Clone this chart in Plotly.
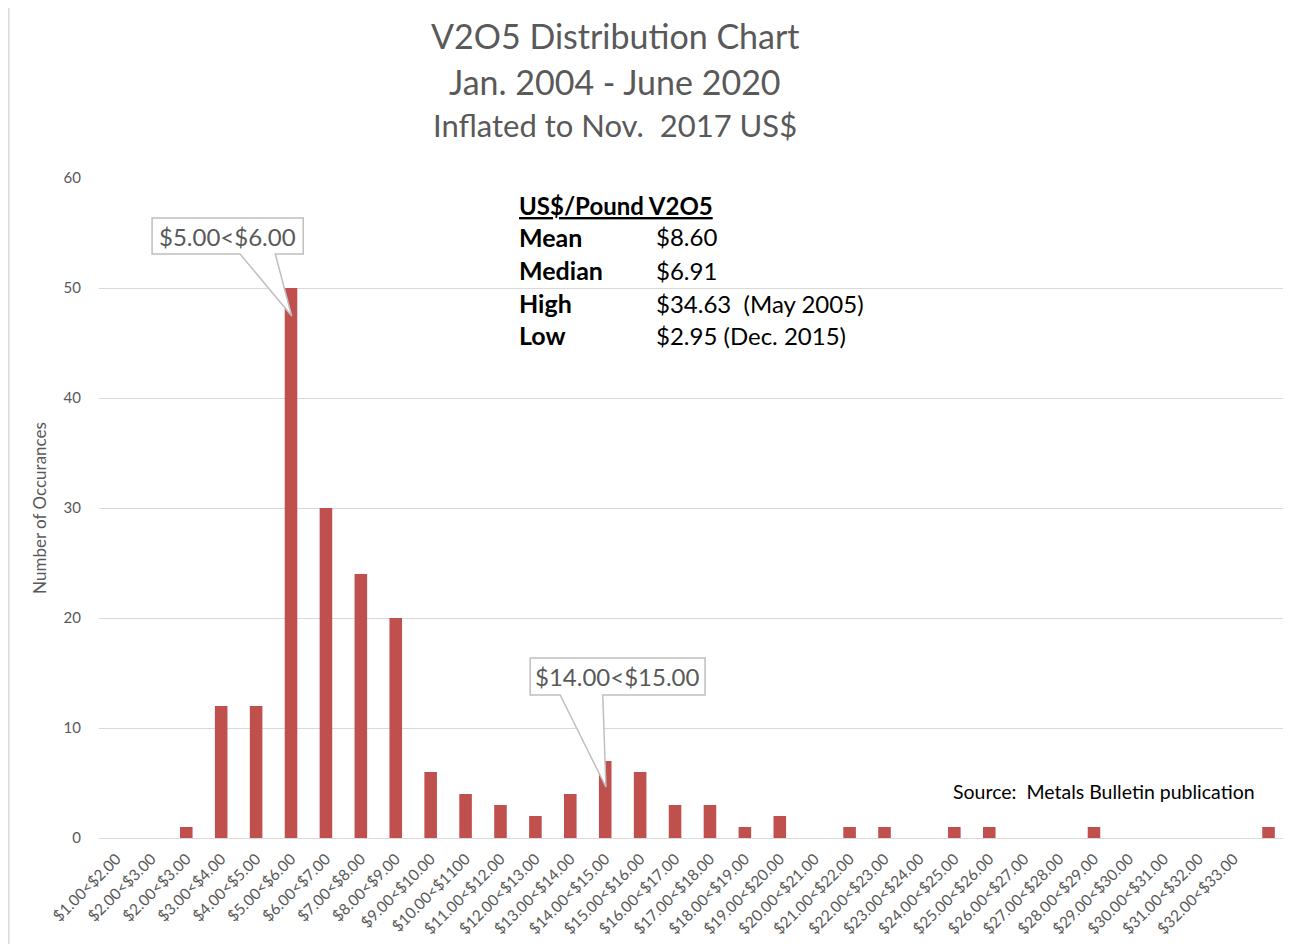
import plotly.graph_objects as go

categories = ["$1.00<$2.00", "$2.00<$3.00", "$2.00<$3.00", "$3.00<$4.00", "$4.00<$5.00",
              "$5.00<$6.00", "$6.00<$7.00", "$7.00<$8.00", "$8.00<$9.00", "$9.00<$10.00",
              "$10.00<$1100", "$11.00<$12.00", "$12.00<$13.00", "$13.00<$14.00", "$14.00<$15.00",
              "$15.00<$16.00", "$16.00<$17.00", "$17.00<$18.00", "$18.00<$19.00", "$19.00<$20.00",
              "$20.00<$21.00", "$21.00<$22.00", "$22.00<$23.00", "$23.00<$24.00", "$24.00<$25.00",
              "$25.00<$26.00", "$26.00<$27.00", "$27.00<$28.00", "$28.00<$29.00", "$29.00<$30.00",
              "$30.00<$31.00", "$31.00<$32.00", "$32.00<$33.00", ""]
occurrences = [0, 0, 1, 12, 12, 50, 30, 24, 20, 6, 4, 3, 2, 4, 7, 6, 3, 3, 1, 2,
               0, 1, 1, 0, 1, 1, 0, 0, 1, 0, 0, 0, 0, 1]
y_ticks = [0, 10, 20, 30, 40, 50, 60]

title_lines = ["V2O5 Distribution Chart", "Jan. 2004 - June 2020", "Inflated to Nov.  2017 US$"]
stats_header = "US$/Pound V2O5"
stats_labels = ["Mean", "Median", "High", "Low"]
stats_values = ["$8.60", "$6.91", "$34.63  (May 2005)", "$2.95 (Dec. 2015)"]
callout_labels = ["$5.00<$6.00", "$14.00<$15.00"]
source_text = "Source:  Metals Bulletin publication"

FONT = "Lato, 'Open Sans', sans-serif"
GRAY = "#595959"
BAR = "#C0504D"

OFF = 8  # page body margin
W, H = 1291 - OFF, 944 - OFF
L, R, T, B = 99 - OFF, 5, 178 - OFF, 106
PW = W - L - R
PH = H - T - B


def px(x):
    return (x - OFF - L) / PW


def py(y):
    return (H - B - (y - OFF)) / PH


xs = list(range(len(categories)))

fig = go.Figure()
fig.add_trace(go.Bar(x=xs, y=occurrences, marker_color=BAR, width=0.36,
                     marker_line_width=0, showlegend=False))

fig.update_layout(
    width=W, height=H,
    margin=dict(l=L, r=R, t=T, b=B, autoexpand=False),
    paper_bgcolor="white", plot_bgcolor="white",
    font=dict(family=FONT, color=GRAY),
    xaxis=dict(range=[-0.5, len(categories) - 0.5], tickmode="array", tickvals=xs,
               ticktext=categories, tickangle=-45, tickfont=dict(size=15.5, color=GRAY),
               showgrid=False, zeroline=False, showline=False, ticks="",
               ticklabelstandoff=8),
    yaxis=dict(range=[0, 60], tickvals=y_ticks, tickfont=dict(size=15, color=GRAY),
               showgrid=True, gridcolor="#D9D9D9", gridwidth=1, zeroline=True,
               zerolinecolor="#D9D9D9", zerolinewidth=1, showline=False, ticks="",
               ticklabelstandoff=17,
               title=dict(text="Number of Occurances", font=dict(size=17, color=GRAY),
                          standoff=12)),
    bargap=0.6,
)

# outer chart border (left edge)
fig.add_shape(type="line", xref="paper", yref="paper",
              x0=px(8.8), x1=px(8.8), y0=py(960), y1=py(0),
              line=dict(color="#D9D9D9", width=1.5), layer="below")

# titles
title_y = [35, 82, 125]
title_sz = [34, 34, 31]
for t, yy, sz in zip(title_lines, title_y, title_sz):
    fig.add_annotation(text=t, xref="paper", yref="paper", x=px(615), y=py(yy),
                       xanchor="center", yanchor="middle", showarrow=False,
                       font=dict(size=sz, color=GRAY, family=FONT))

# stats box
fig.add_annotation(text=f"<b><u>{stats_header}</u></b>", xref="paper", yref="paper",
                   x=px(517), y=py(205), xanchor="left", yanchor="middle", showarrow=False,
                   font=dict(size=24, color="black", family=FONT))
rows_y = [237, 270, 303, 335]
for lab, val, yy in zip(stats_labels, stats_values, rows_y):
    fig.add_annotation(text=f"<b>{lab}</b>", xref="paper", yref="paper", x=px(517), y=py(yy),
                       xanchor="left", yanchor="middle", showarrow=False,
                       font=dict(size=25, color="black", family=FONT))
    fig.add_annotation(text=val, xref="paper", yref="paper", x=px(654), y=py(yy),
                       xanchor="left", yanchor="middle", showarrow=False,
                       font=dict(size=24, color="black", family=FONT))

# source
fig.add_annotation(text=source_text, xref="paper", yref="paper", x=px(951), y=py(791),
                   xanchor="left", yanchor="middle", showarrow=False,
                   font=dict(size=19.5, color="black", family=FONT))

# callouts (box + wedge pointer) in data coordinates
callouts = [
    # (x0, x1, ytop, ybot, base1, base2, tipx, tipy, textx, texty)
    (1.02, 5.35, 56.36, 53.09, 3.54, 4.55, 5.02, 47.45, 3.185, 54.72),
    (11.85, 16.86, 16.36, 13.0, 12.71, 13.93, 14.02, 4.64, 14.355, 14.68),
]
for (x0, x1, yt, yb, b1, b2, tx, ty, cx, cy), lab in zip(callouts, callout_labels):
    path = (f"M {x0} {yt} L {x1} {yt} L {x1} {yb} L {b2} {yb} L {tx} {ty} "
            f"L {b1} {yb} L {x0} {yb} Z")
    fig.add_shape(type="path", xref="x", yref="y", path=path, fillcolor="white",
                  line=dict(color="#BFBFBF", width=1.5), layer="above")
    fig.add_annotation(text=lab, xref="x", yref="y", x=cx, y=cy, xanchor="center",
                       yanchor="middle", showarrow=False,
                       font=dict(size=24, color=GRAY, family=FONT))

fig.write_html("out.html")
